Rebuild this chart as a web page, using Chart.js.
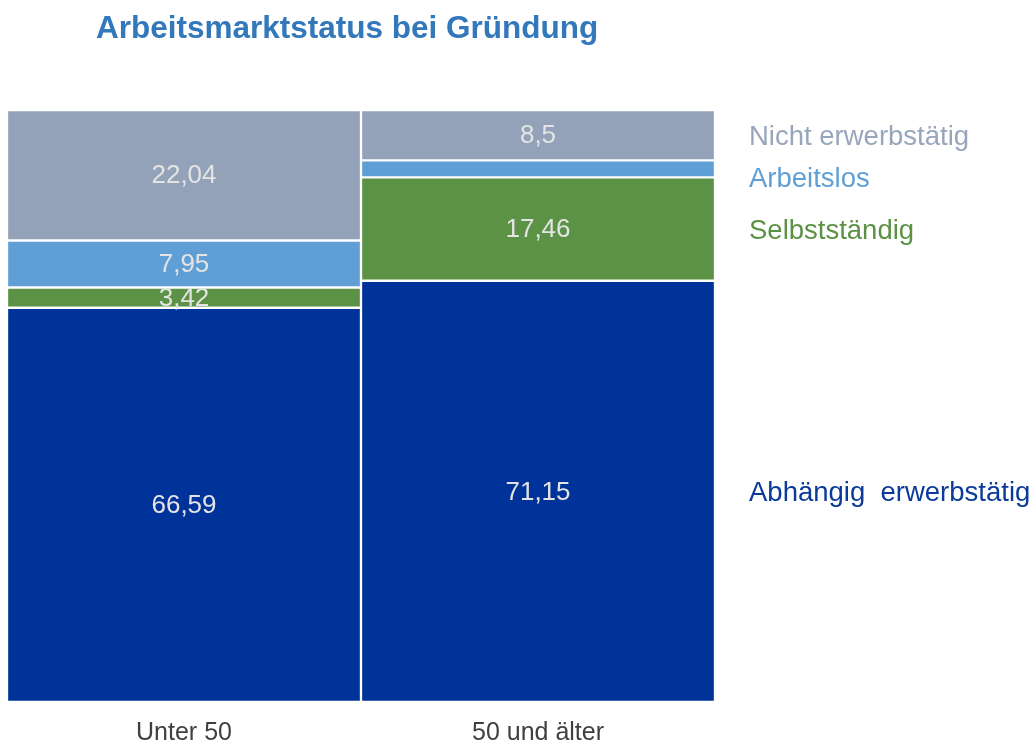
<!DOCTYPE html>
<html>
<head>
<meta charset="utf-8">
<script src="https://cdn.jsdelivr.net/npm/chart.js@4"></script>
<style>
  html, body { margin: 0; padding: 0; background: #fff; overflow: hidden; }
  #wrap { width: 1035px; height: 745px; position: relative; }
</style>
</head>
<body>
<div id="wrap"><canvas id="chart"></canvas></div>
<script>
// ---------------------------------------------------------------------------
// DATA
// ---------------------------------------------------------------------------

const TITLE = 'Arbeitsmarktstatus bei Gründung'
const CATEGORIES = ['Unter 50', '50 und älter']
const SERIES_NAMES = ['Abhängig  erwerbstätig', 'Selbstständig', 'Arbeitslos', 'Nicht erwerbstätig']
const ABHAENGIG = [66.59, 71.15]
const SELBST = [3.42, 17.46]
const ARBEITSLOS = [7.95, 2.89]
const NICHT = [22.04, 8.5]
// value labels shown inside the segments
const SHOW_LABEL = [[true, true], [true, true], [true, false], [true, true]]
const COLORS = ['#003399', '#5B9245', '#5F9FD6', '#93A2B8']
const LEGEND_COLORS = ['#0B3A9A', '#5B9245', '#5F9FD6', '#98A6BC']

const FONT = '"Liberation Sans", Arial, sans-serif'

function fmt(v) {
    return String(v).replace('.', ',')
}

// ---------------------------------------------------------------------------
// PLUGINS
// ---------------------------------------------------------------------------

const titlePlugin = {
    id: 'leftTitle',
    afterDraw(chart) {
        const ctx = chart.ctx
        ctx.save()
        ctx.font = 'bold 31.5px ' + FONT
        ctx.fillStyle = '#3278BA'
        ctx.textAlign = 'left'
        ctx.textBaseline = 'alphabetic'
        ctx.fillText(TITLE, 96, 38, 503)
        ctx.restore()
    },
}

const valueLabels = {
    id: 'valueLabels',
    afterDatasetsDraw(chart) {
        const ctx = chart.ctx
        ctx.save()
        ctx.font = '26px ' + FONT
        ctx.fillStyle = '#E4E4E4'
        ctx.textAlign = 'center'
        ctx.textBaseline = 'middle'
        chart.data.datasets.forEach((ds, i) => {
            chart.getDatasetMeta(i).data.forEach((el, j) => {
                if (!SHOW_LABEL[i][j]) return
                const mid = (el.y + el.base) / 2
                ctx.fillText(fmt(ds.data[j]), el.x, mid + 1)
            })
        })
        ctx.restore()
    },
}

const seriesNames = {
    id: 'seriesNames',
    afterDatasetsDraw(chart) {
        const ctx = chart.ctx
        const last = chart.data.labels.length - 1
        const x = chart.chartArea.right + 34
        ctx.save()
        ctx.font = '27.5px ' + FONT
        ctx.textAlign = 'left'
        ctx.textBaseline = 'middle'
        // go from top segment down, keep a minimum spacing
        let prev = -Infinity
        for (let i = chart.data.datasets.length - 1; i >= 0; i--) {
            const el = chart.getDatasetMeta(i).data[last]
            let y = (el.y + el.base) / 2
            if (y < prev + 42) y = prev + 42
            prev = y
            ctx.fillStyle = LEGEND_COLORS[i]
            ctx.fillText(SERIES_NAMES[i], x, y + 2)
        }
        ctx.restore()
    },
}

// ---------------------------------------------------------------------------
// CHART
// ---------------------------------------------------------------------------

const values = [ABHAENGIG, SELBST, ARBEITSLOS, NICHT]

new Chart(document.getElementById('chart'), {
    type: 'bar',
    data: {
        labels: CATEGORIES,
        datasets: values.map((data, i) => ({
            label: SERIES_NAMES[i],
            data,
            backgroundColor: COLORS[i],
            borderColor: '#FFFFFF',
            borderWidth: 1.5,
            borderSkipped: false,
            categoryPercentage: 1,
            barPercentage: 1,
        })),
    },
    options: {
        responsive: true,
        maintainAspectRatio: false,
        animation: false,
        layout: { padding: { left: 7, right: 320, top: 110, bottom: 0 } },
        plugins: {
            legend: { display: false },
            title: { display: false },
            tooltip: { enabled: false },
        },
        scales: {
            x: {
                stacked: true,
                grid: { display: false, drawTicks: false },
                border: { display: false },
                ticks: {
                    padding: 16,
                    color: '#404040',
                    font: { family: FONT, size: 25 },
                },
                afterFit(scale) {
                    scale.height = 43
                },
            },
            y: {
                stacked: true,
                display: false,
                min: 0,
                max: 100,
            },
        },
    },
    plugins: [titlePlugin, valueLabels, seriesNames],
})
</script>
</body>
</html>
